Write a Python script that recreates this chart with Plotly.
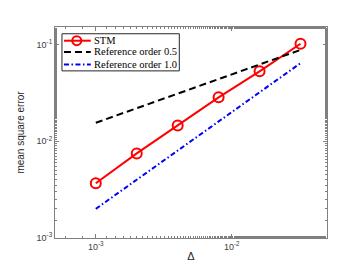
import plotly.graph_objects as go

dt = [0.001, 0.002, 0.004, 0.008, 0.016, 0.032]
stm = [0.00368, 0.00748, 0.01455, 0.0284, 0.0527, 0.1016]
ref05 = [0.0155, 0.0219, 0.0310, 0.0438, 0.0620, 0.0877]
ref10 = [0.002, 0.004, 0.008, 0.016, 0.032, 0.064]
names = ["STM", "Reference order 0.5", "Reference order 1.0"]

xtickvals = [0.001, 0.01]
xticktext = ["10<sup>-3</sup>", "10<sup>-2</sup>"]
ytickvals = [0.001, 0.01, 0.1]
yticktext = ["10<sup>-3</sup>", "10<sup>-2</sup>", "10<sup>-1</sup>"]

colors = ["#ff0000", "#000000", "#0000ff"]
dashes = ["solid", "7px,4px", "5px,2.5px,1.5px,2.5px"]

fig = go.Figure()
fig.add_trace(go.Scatter(x=dt, y=stm, mode="lines+markers", name=names[0],
                         line=dict(color=colors[0], width=2),
                         marker=dict(symbol="circle-open", size=10, color=colors[0],
                                     line=dict(width=2, color=colors[0]))))
fig.add_trace(go.Scatter(x=dt, y=ref05, mode="lines", name=names[1],
                         line=dict(color=colors[1], width=2, dash=dashes[1])))
fig.add_trace(go.Scatter(x=dt, y=ref10, mode="lines", name=names[2],
                         line=dict(color=colors[2], width=2, dash=dashes[2])))

axis_common = dict(showline=True, linecolor="#808080", linewidth=1, mirror="ticks",
                   ticks="inside", ticklen=4, tickcolor="#808080", showgrid=False,
                   zeroline=False, tickfont=dict(family="Liberation Sans", size=9, color="#404040"),
                   minor=dict(ticks="inside", ticklen=2, tickcolor="#808080", showgrid=False))

fig.update_xaxes(type="log", range=[-3.3, -1.3], tickvals=xtickvals, ticktext=xticktext,
                 title=dict(text="Δ", font=dict(family="Liberation Sans", size=11, color="#262626"),
                            standoff=1), **axis_common)
fig.update_yaxes(type="log", range=[-3, -0.82], tickvals=ytickvals, ticktext=yticktext,
                 title=dict(text="mean square error", font=dict(family="Liberation Sans", size=10, color="#262626"),
                            standoff=10), **axis_common)

# manual compact legend (MATLAB style), in plot-area paper coords
fig.add_shape(type="rect", xref="paper", yref="paper", x0=0.0256, x1=0.457, y0=0.792, y1=0.968,
              line=dict(color="#262626", width=1), fillcolor="white", layer="above")
rows = [0.935, 0.882, 0.822]
for i in range(3):
    fig.add_shape(type="line", xref="paper", yref="paper", x0=0.033, x1=0.1315, y0=rows[i], y1=rows[i],
                  line=dict(color=colors[i], width=2, dash=dashes[i]), layer="above")
    fig.add_annotation(xref="paper", yref="paper", x=0.135, y=rows[i], xanchor="left", yanchor="middle",
                       text=names[i], showarrow=False,
                       font=dict(family="Liberation Serif", size=10.5, color="#000000"))
fig.add_shape(type="circle", xref="paper", yref="paper", x0=0.080 - 0.0165, x1=0.080 + 0.0165,
              y0=rows[0] - 0.021, y1=rows[0] + 0.021, line=dict(color=colors[0], width=2),
              fillcolor="rgba(0,0,0,0)", layer="above")

fig.update_layout(
    width=352, height=264,
    margin=dict(l=45, r=33, t=19, b=29),
    plot_bgcolor="white", paper_bgcolor="white",
    showlegend=False,
)
fig.write_html("out.html")
